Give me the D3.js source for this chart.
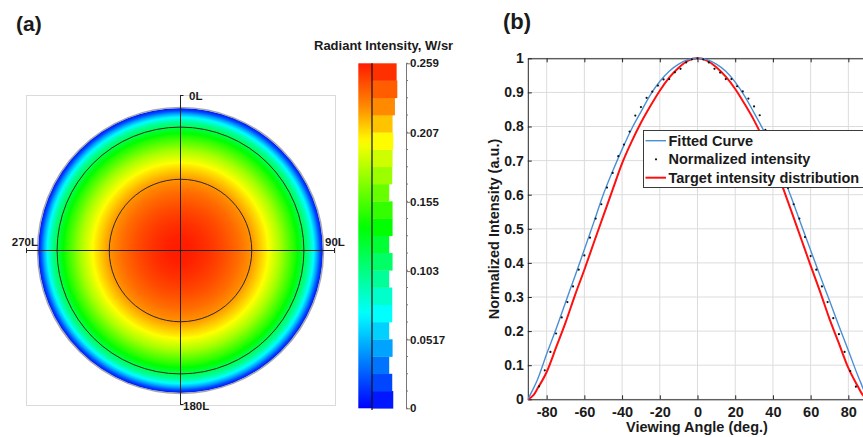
<!DOCTYPE html>
<html>
<head>
<meta charset="utf-8">
<script src="https://cdn.jsdelivr.net/npm/d3@7"></script>
<style>
  html, body { margin: 0; padding: 0; background: #fff; }
  svg { display: block; }
  text { font-family: "Liberation Sans", Arial, sans-serif; font-weight: bold; fill: #1a1a1a; }
</style>
</head>
<body>
<svg id="chart" width="863" height="437"></svg>
<script>
// ---------------- DATA ----------------
// Panel (b): normalized intensity samples (dots)
const dotAngles = [-84,-81,-78,-75,-72,-69,-66,-63,-60,-57,-54,-51,-48,-45,-42,-39,-36,-33,-30,-27,-24,-21,-18,-15,-12,-9,-6,-3,0,
                   3,6,9,12,15,18,21,24,27,30,33,36,39,42,45,48,51,54,57,60,63,66,69,72,75,78,81,84];
const dotValues = [0.038,0.085,0.139,0.193,0.240,0.285,0.331,0.380,0.422,0.474,0.530,0.572,0.621,0.664,0.713,0.747,0.785,0.832,0.857,0.884,0.902,0.920,0.938,0.939,0.959,0.969,0.988,0.997,1.000,
                   0.997,0.988,0.969,0.958,0.939,0.939,0.918,0.903,0.882,0.859,0.833,0.790,0.750,0.710,0.665,0.620,0.572,0.530,0.476,0.420,0.380,0.331,0.285,0.238,0.191,0.139,0.083,0.037];

// Fitted curve and target distribution (sampled)
const curveAngles = [-90,-87,-85,-80,-75,-70,-65,-60,-55,-50,-45,-40,-35,-30,-25,-20,-15,-10,-5,0,
                     5,10,15,20,25,30,35,40,45,50,55,60,65,70,75,80,85,87,90];
const fittedValues = [0.000,0.032,0.056,0.133,0.206,0.284,0.361,0.439,0.519,0.600,0.669,0.733,0.792,0.843,0.893,0.932,0.962,0.983,0.996,1.000,
                      0.996,0.983,0.962,0.930,0.889,0.840,0.789,0.728,0.660,0.588,0.512,0.437,0.362,0.290,0.215,0.143,0.070,0.043,0.000];
const targetValues = [0.000,0.012,0.030,0.080,0.152,0.225,0.305,0.380,0.459,0.537,0.615,0.692,0.755,0.811,0.860,0.905,0.943,0.972,0.993,1.000,
                      0.993,0.974,0.946,0.910,0.866,0.818,0.762,0.700,0.625,0.548,0.470,0.392,0.316,0.236,0.164,0.092,0.038,0.018,0.000];

const xTickValues = [-80,-60,-40,-20,0,20,40,60,80];
const yTickValues = [0,0.1,0.2,0.3,0.4,0.5,0.6,0.7,0.8,0.9,1];
const legendLabels = ["Fitted Curve","Normalized intensity","Target intensity distribution"];

// Panel (a): polar radiant intensity map (radius as fraction of the outer circle, value in W/sr)
const diskRadius    = [0,    0.1,  0.2,  0.3,  0.4,  0.5,  0.6,  0.7,  0.8,  0.86, 0.9,  0.93, 0.96, 0.98, 1.0];
const diskIntensity = [0.259,0.257,0.252,0.245,0.236,0.224,0.204,0.178,0.145,0.120,0.098,0.075,0.045,0.020,0.005];

// Panel (a): colour bar
const cbMax = 0.259;
const cbTickValues = [0,0.0517,0.103,0.155,0.207,0.259];
const cbTickLabels = ["0","0.0517","0.103","0.155","0.207","0.259"];
const cbBinCounts = [6.3,6.0,5.1,6.1,5.1,6.0,6.0,5.1,6.1,5.1,6.1,6.1,5.1,6.0,6.1,6.3,6.1,6.8,7.5,7.3]; // bottom bin first
const cmapValues = [0,0.071,0.136,0.200,0.226,0.259];
const cmapColors = ["#0000ff","#00ffff","#00ff00","#ffff00","#ff8c00","#ff1a00"];
const ringAngles = [30,60];
const azimuthLabels = ["0L","90L","180L","270L"];

// ---------------- DRAW ----------------
const svg = d3.select("#chart");
svg.append("rect").attr("width",863).attr("height",437).attr("fill","#fff");
const defs = svg.append("defs");

// ===== Panel (b) =====
const x = d3.scaleLinear().domain([-90,90]).range([527.8,867.2]);
const y = d3.scaleLinear().domain([0,1]).range([399.3,58.3]);

defs.append("clipPath").attr("id","plotClip")
  .append("rect").attr("x",x(-90)).attr("y",y(1)-3).attr("width",863-x(-90)).attr("height",y(0)-y(1)+6);

const gB = svg.append("g");
svg.append("text").attr("x",503).attr("y",29).style("font-size","22px").text("(b)");

// grid
const grid = gB.append("g").attr("clip-path","url(#plotClip)");
grid.selectAll(".vg").data(xTickValues).join("line")
  .attr("x1",d=>x(d)).attr("x2",d=>x(d)).attr("y1",y(0)).attr("y2",y(1))
  .attr("stroke","#dcdcdc").attr("stroke-width",1);
grid.selectAll(".hg").data(yTickValues).join("line")
  .attr("x1",x(-90)).attr("x2",x(90)).attr("y1",d=>y(d)).attr("y2",d=>y(d))
  .attr("stroke","#dcdcdc").attr("stroke-width",1);

// axes
const axisStyle = g => {
  g.selectAll("path,line").attr("stroke","#262626");
  g.selectAll("text").attr("fill","#1a1a1a").style("font-family","'Liberation Sans', Arial, sans-serif").style("font-weight","bold");
};
gB.append("g").attr("transform",`translate(0,${y(0)})`)
  .call(d3.axisBottom(x).tickValues(xTickValues).tickSize(-4).tickSizeOuter(0).tickPadding(7).tickFormat(d => String(d)))
  .call(axisStyle).call(g=>g.selectAll("text").style("font-size","14.5px"));
gB.append("g").attr("transform",`translate(0,${y(1)})`)
  .call(d3.axisTop(x).tickValues(xTickValues).tickSize(-4).tickSizeOuter(0).tickFormat(""))
  .call(axisStyle);
gB.append("g").attr("transform",`translate(${x(-90)},0)`)
  .call(d3.axisLeft(y).tickValues(yTickValues).tickSize(-4).tickSizeOuter(0).tickPadding(4)
        .tickFormat(d => (d===0||d===1) ? String(d) : d3.format(".1f")(d)))
  .call(axisStyle).call(g=>g.selectAll("text").style("font-size","14px"));

// axis labels
svg.append("text").attr("x",697).attr("y",432).attr("text-anchor","middle").style("font-size","14.5px").text("Viewing Angle (deg.)");
svg.append("text").attr("transform",`translate(499,229) rotate(-90)`).attr("text-anchor","middle").style("font-size","14.5px").text("Normalized Intensity (a.u.)");

// curves
const plot = gB.append("g").attr("clip-path","url(#plotClip)");
const lineGen = vals => d3.line().x((d,i)=>x(curveAngles[i])).y(d=>y(d)).curve(d3.curveMonotoneX)(vals);
plot.append("path").attr("d",lineGen(targetValues)).attr("fill","none").attr("stroke","#ff1010").attr("stroke-width",2);
plot.append("path").attr("d",lineGen(fittedValues)).attr("fill","none").attr("stroke","#4a8fd6").attr("stroke-width",1.4);
plot.selectAll(".dot").data(dotValues).join("circle")
  .attr("cx",(d,i)=>x(dotAngles[i])).attr("cy",d=>y(d)).attr("r",1.1).attr("fill","#111");

// legend
const lg = svg.append("g");
lg.append("rect").attr("x",643.5).attr("y",130.5).attr("width",224).attr("height",57).attr("fill","#fff").attr("stroke","#3a3a3a").attr("stroke-width",1);
const rowY = [140.7,159.3,177.7];
lg.append("line").attr("x1",645.5).attr("x2",666).attr("y1",rowY[0]).attr("y2",rowY[0]).attr("stroke","#4a8fd6").attr("stroke-width",1.4);
lg.append("circle").attr("cx",656).attr("cy",rowY[1]).attr("r",1.1).attr("fill","#111");
lg.append("line").attr("x1",645.5).attr("x2",666).attr("y1",rowY[2]).attr("y2",rowY[2]).attr("stroke","#ff1010").attr("stroke-width",2);
lg.selectAll(".lt").data(legendLabels).join("text")
  .attr("x",668.5).attr("y",(d,i)=>rowY[i]+5).style("font-size","14.5px").text(d=>d);

// ===== Panel (a) =====
svg.append("text").attr("x",16).attr("y",31).style("font-size","21px").text("(a)");

const cmap = d3.scaleLinear().domain(cmapValues).range(cmapColors).interpolate(d3.interpolateRgb).clamp(true);

const cx = 180.5, cy = 250.5, R = 142.5;
const rScale = d3.scaleLinear().domain([0,1]).range([0,R]);

// frame
svg.append("rect").attr("x",26.5).attr("y",95.5).attr("width",309).attr("height",310).attr("fill","none").attr("stroke","#dadada");

// radial gradient from the disk's radial profile
const diskProfile = d3.scaleLinear().domain(diskRadius).range(diskIntensity).clamp(true);
const rg = defs.append("radialGradient").attr("id","diskGrad").attr("cx","50%").attr("cy","50%").attr("r","50%");
const nStops = 140;
rg.selectAll("stop").data(d3.range(nStops+1)).join("stop")
  .attr("offset",k=>(k/nStops*100)+"%")
  .attr("stop-color",k=>cmap(diskProfile(k/nStops)));
svg.append("circle").attr("cx",cx).attr("cy",cy).attr("r",R).attr("fill","url(#diskGrad)");
svg.append("circle").attr("cx",cx).attr("cy",cy).attr("r",R+0.4).attr("fill","none").attr("stroke","#a8a8a8").attr("stroke-width",1.5);
svg.selectAll(".ring").data(ringAngles).join("circle")
  .attr("cx",cx).attr("cy",cy).attr("r",d=>rScale(Math.sin(d*Math.PI/180)))
  .attr("fill","none").attr("stroke","#2a2a2a").attr("stroke-width",1);

// cross hair
const ch = svg.append("g").attr("stroke","#222").attr("stroke-width",1);
ch.append("line").attr("x1",26).attr("x2",335).attr("y1",cy).attr("y2",cy);
ch.append("line").attr("x1",26.5).attr("x2",26.5).attr("y1",cy-2.5).attr("y2",cy+2.5);
ch.append("line").attr("x1",334.5).attr("x2",334.5).attr("y1",cy-2.5).attr("y2",cy+2.5);
ch.append("line").attr("x1",cx).attr("x2",cx).attr("y1",95).attr("y2",405);
ch.append("line").attr("x1",cx).attr("x2",cx+3).attr("y1",95.5).attr("y2",95.5);
ch.append("line").attr("x1",cx).attr("x2",cx+3).attr("y1",404.5).attr("y2",404.5);

const azPos = [
  {x:189, y:99.5, a:"start"},
  {x:325, y:246, a:"start"},
  {x:183, y:409.5, a:"start"},
  {x:38, y:246, a:"end"}
];
svg.selectAll(".az").data(azimuthLabels).join("text")
  .attr("x",(d,i)=>azPos[i].x).attr("y",(d,i)=>azPos[i].y).attr("text-anchor",(d,i)=>azPos[i].a)
  .style("font-size","11.5px").text(d=>d);

// colour bar
const cbY = d3.scaleLinear().domain([0,cbMax]).range([408.3,63.3]);
const lgr = defs.append("linearGradient").attr("id","cbGrad").attr("x1","0").attr("y1","1").attr("x2","0").attr("y2","0");
lgr.selectAll("stop").data(d3.range(51)).join("stop")
  .attr("offset",k=>(k*2)+"%").attr("stop-color",k=>cmap(cbMax*k/50));
svg.append("rect").attr("x",358.3).attr("y",cbY(cbMax)).attr("width",13.7).attr("height",cbY(0)-cbY(cbMax)).attr("fill","url(#cbGrad)");

const nBins = cbBinCounts.length;
const binW = d3.scaleLinear().domain([0,7.5]).range([0,25.3]);
svg.selectAll(".bin").data(cbBinCounts).join("rect")
  .attr("x",372)
  .attr("y",(d,i)=>cbY(cbMax*(i+1)/nBins))
  .attr("width",d=>binW(d))
  .attr("height",(d,i)=>cbY(cbMax*i/nBins)-cbY(cbMax*(i+1)/nBins)+0.3)
  .attr("fill",(d,i)=>cmap(cbMax*(i+0.5)/nBins));
svg.append("line").attr("x1",372).attr("x2",372).attr("y1",63.3).attr("y2",410).attr("stroke","#111").attr("stroke-width",1.2);

// colour bar axis
const cbAxis = svg.append("g").attr("transform","translate(406,0)");
cbAxis.call(d3.axisRight(cbY).tickValues(cbTickValues).tickSize(4).tickSizeOuter(0).tickPadding(0)
  .tickFormat((d,i)=>cbTickLabels[i]));
cbAxis.selectAll("path,line").attr("stroke","#777");
cbAxis.selectAll("text").attr("fill","#1a1a1a").style("font-family","'Liberation Sans', Arial, sans-serif").style("font-weight","bold").style("font-size","11.5px");
cbAxis.selectAll(".minor").data(d3.range(nBins+1)).join("line")
  .attr("x1",0).attr("x2",2).attr("y1",k=>cbY(cbMax*k/nBins)).attr("y2",k=>cbY(cbMax*k/nBins)).attr("stroke","#777");

svg.append("text").attr("x",314).attr("y",50).style("font-size","13px").text("Radiant Intensity, W/sr");
</script>
</body>
</html>
